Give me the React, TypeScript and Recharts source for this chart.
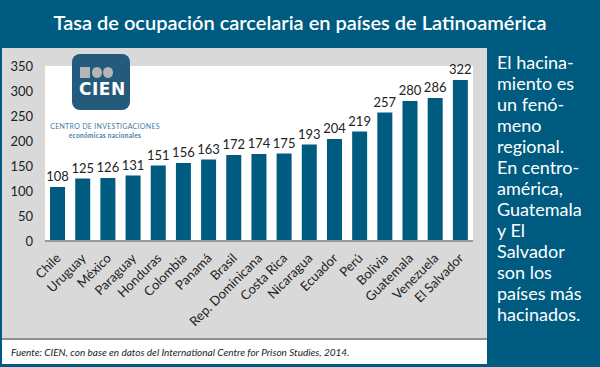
import { BarChart, Bar, XAxis, YAxis, LabelList, ReferenceArea } from "recharts";

const countries = [
  "Chile", "Uruguay", "México", "Paraguay", "Honduras", "Colombia", "Panamá", "Brasil",
  "Rep. Dominicana", "Costa Rica", "Nicaragua", "Ecuador", "Perú", "Bolivia",
  "Guatemala", "Venezuela", "El Salvador",
];
const rates = [108, 125, 126, 131, 151, 156, 163, 172, 174, 175, 193, 204, 219, 257, 280, 286, 322];
const yTicks = [0, 50, 100, 150, 200, 250, 300, 350];

const sideText = [
  "El hacina-", "miento es", "un fenó-", "meno", "regional.", "En centro-",
  "américa,", "Guatemala", "y El", "Salvador", "son los", "países más", "hacinados.",
];

const data = countries.map((name, i) => ({ name, value: rates[i] }));

const BLUE = "#005b80";
const FONT = "Lato, 'Open Sans', sans-serif";

function CountryTick({ x, y, payload }: { x?: number; y?: number; payload?: { value: string } }) {
  const tx = (x ?? 0) + 4;
  const ty = (y ?? 0) + 10;
  return (
    <text
      x={tx}
      y={ty}
      transform={`rotate(-45, ${tx}, ${ty})`}
      textAnchor="end"
      fontSize={13}
      fill="#222"
      fontFamily={FONT}
    >
      {payload?.value}
    </text>
  );
}

export default function App() {
  return (
    <div
      style={{
        position: "absolute",
        left: 0,
        top: 0,
        width: 600,
        height: 367,
        background: BLUE,
        fontFamily: FONT,
        overflow: "hidden",
      }}
    >
      <div
        style={{
          position: "absolute",
          left: 0,
          top: 10,
          width: 600,
          textAlign: "center",
          color: "#fff",
          fontSize: 20,
          fontWeight: 600,
        }}
      >
        Tasa de ocupación carcelaria en países de Latinoamérica
      </div>

      <div
        style={{
          position: "absolute",
          left: 2,
          top: 48,
          width: 485,
          height: 290,
          background: "#d9d9d9",
          borderBottom: "2px solid #8f8f8f",
        }}
      >
        <BarChart
          width={485}
          height={290}
          data={data}
          margin={{ top: 18, right: 14, bottom: 0, left: 0 }}
          barCategoryGap="20%"
        >
          <YAxis
            domain={[0, 350]}
            ticks={yTicks}
            width={43}
            axisLine={false}
            tickLine={false}
            tickMargin={6}
            interval={0}
            tick={{ fill: "#222", fontSize: 13, fontFamily: FONT }}
          />
          <XAxis
            dataKey="name"
            height={97}
            interval={0}
            tickLine={false}
            axisLine={{ stroke: "#999", strokeWidth: 2 }}
            tick={<CountryTick />}
          />
          {/* white plot background */}
          <ReferenceArea y1={0} y2={350} fill="#ffffff" fillOpacity={1} stroke="none" />
          <Bar dataKey="value" fill={BLUE} isAnimationActive={false}>
            <LabelList
              dataKey="value"
              position="top"
              offset={6}
              fill="#222"
              fontSize={13}
              fontFamily={FONT}
            />
          </Bar>
        </BarChart>

        {/* logo */}
        <div
          style={{
            position: "absolute",
            left: 70,
            top: 6,
            width: 58,
            height: 56,
            background: "#245a7c",
            borderRadius: 8,
          }}
        >
          <div style={{ position: "absolute", left: 8, top: 13, width: 10, height: 11, background: "#b5b5b5" }} />
          <div style={{ position: "absolute", left: 20, top: 13, width: 10, height: 11, borderRadius: "50%", background: "#b5b5b5" }} />
          <div style={{ position: "absolute", left: 31, top: 13, width: 10, height: 11, borderRadius: "50%", background: "#b5b5b5" }} />
          <div
            style={{
              position: "absolute",
              left: 7,
              top: 25,
              color: "#fff",
              fontSize: 17,
              fontWeight: 900,
              letterSpacing: 0.5,
              lineHeight: "20px",
              fontFamily: "'DejaVu Sans', sans-serif",
            }}
          >
            CIEN
          </div>
        </div>
        <div
          style={{
            position: "absolute",
            left: 44,
            top: 74,
            width: 118,
            textAlign: "center",
            color: "#3f7ba3",
            fontSize: 7,
            letterSpacing: 0.3,
            lineHeight: "9px",
            whiteSpace: "nowrap",
          }}
        >
          CENTRO DE INVESTIGACIONES
          <br />
          <span style={{ fontSize: 6.5, fontWeight: 700 }}>económicas nacionales</span>
        </div>
      </div>

      <div
        style={{
          position: "absolute",
          left: 2,
          top: 340,
          width: 485,
          height: 24,
          background: "#fff",
        }}
      >
        <div
          style={{
            position: "absolute",
            left: 9,
            top: 6,
            fontSize: 10,
            fontStyle: "italic",
            color: "#222",
          }}
        >
          Fuente: CIEN, con base en datos del International Centre for Prison Studies, 2014.
        </div>
      </div>

      <div
        style={{
          position: "absolute",
          left: 497,
          top: 52,
          color: "#fff",
          fontSize: 18,
          lineHeight: "21px",
        }}
      >
        {sideText.map((line) => (
          <div key={line}>{line}</div>
        ))}
      </div>
    </div>
  );
}
